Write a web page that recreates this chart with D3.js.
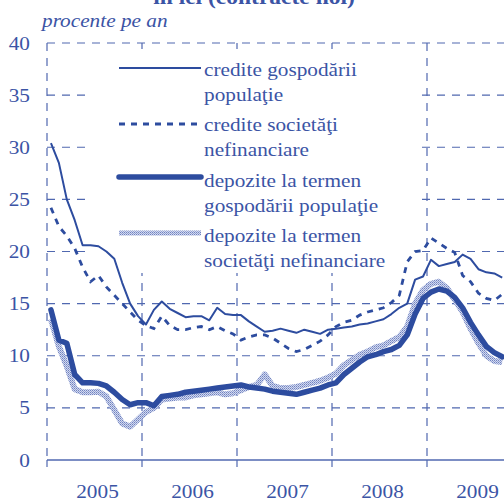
<!DOCTYPE html>
<html>
<head>
<meta charset="utf-8">
<script src="https://cdn.jsdelivr.net/npm/d3@7"></script>
<style>
  body { margin: 0; background: #fff; }
  svg { display: block; }
</style>
</head>
<body>
<script>
// monthly values, Jan 2005 .. Oct 2009
var years = ["2005", "2006", "2007", "2008", "2009"];
var yTicks = [0, 5, 10, 15, 20, 25, 30, 35, 40];

var credGosp = [30.4, 28.5, 25.0, 23.0, 20.6, 20.6, 20.5, 20.0, 19.3, 17.0, 15.0, 13.8,
                13.0, 14.4, 15.2, 14.5, 14.1, 13.7, 13.8, 13.8, 13.4, 14.6, 14.0, 13.9,
                13.9, 13.3, 12.8, 12.3, 12.4, 12.6, 12.4, 12.2, 12.5, 12.3, 12.1, 12.5,
                12.6, 12.7, 12.8, 13.0, 13.1, 13.3, 13.5, 14.0, 14.6, 15.0, 17.3, 17.6,
                19.2, 18.6, 18.8, 19.0, 19.7, 19.3, 18.3, 18.0, 17.9, 17.5];
var credSoc = [24.2, 22.4, 21.5, 20.3, 18.5, 17.1, 17.7, 16.6, 15.8, 15.0, 14.2, 13.4,
               12.9, 12.6, 13.8, 12.9, 12.5, 12.5, 12.7, 12.8, 12.5, 12.8, 12.4, 12.1,
               11.5, 11.8, 12.0, 12.0, 11.7, 11.2, 10.7, 10.4, 10.6, 11.0, 11.4, 12.0,
               12.8, 13.2, 13.4, 13.9, 14.2, 14.4, 14.6, 15.1, 15.8, 19.0, 20.0, 20.1,
               21.3, 20.8, 20.3, 19.9, 17.7, 17.1, 16.0, 15.5, 15.3, 15.9];
var depGosp = [14.4, 11.5, 11.2, 8.2, 7.4, 7.4, 7.35, 7.1, 6.5, 5.8, 5.3, 5.5,
               5.5, 5.2, 6.1, 6.2, 6.3, 6.5, 6.6, 6.7, 6.8, 6.9, 7.0, 7.1,
               7.2, 7.0, 6.9, 6.8, 6.6, 6.5, 6.4, 6.3, 6.5, 6.7, 6.9, 7.2,
               7.4, 8.2, 8.8, 9.4, 9.9, 10.1, 10.4, 10.6, 11.0, 12.0, 14.0, 15.5,
               16.1, 16.4, 16.2, 15.6, 14.6, 13.2, 12.0, 10.9, 10.3, 9.9];
var depSoc = [13.5, 10.9, 9.0, 6.8, 6.5, 6.5, 6.55, 6.1, 4.8, 3.5, 3.2, 3.9,
              4.6, 5.0, 5.8, 5.9, 6.0, 6.0, 6.2, 6.3, 6.4, 6.5, 6.3, 6.4,
              6.7, 7.0, 7.2, 8.2, 7.1, 6.9, 6.9, 7.0, 7.2, 7.4, 7.6, 7.9,
              8.3, 9.1, 9.6, 10.1, 10.4, 10.8, 11.0, 11.4, 11.8, 12.8, 15.0, 16.3,
              16.9, 17.1, 16.5, 15.4, 14.2, 12.6, 11.2, 10.0, 9.5, 9.4];

var legendLabels = [
    ["credite gospodării", "populaţie"],
    ["credite societăţi", "nefinanciare"],
    ["depozite la termen", "gospodării populaţie"],
    ["depozite la termen", "societăţi nefinanciare"]
];

var width = 504;
var height = 500;
var textColor = "#3b54a5";
var lineColor = "#2d4c9f";
var gridColor = "#5068b0";
var stretch = 1.12;  // glyphs in the picture are wider than tall

var xScale = d3.scaleLinear().domain([0, 60]).range([47, 522]);
var yScale = d3.scaleLinear().domain([0, 40]).range([460, 43]);

var svg = d3.select("body")
    .append("svg")
    .attr("width", width)
    .attr("height", height);

var defs = svg.append("defs");
var pat = defs.append("pattern")
    .attr("id", "dots")
    .attr("patternUnits", "userSpaceOnUse")
    .attr("width", 2)
    .attr("height", 2);
pat.append("rect").attr("width", 2).attr("height", 2).attr("fill", "#d3d9ef");
pat.append("rect").attr("width", 1).attr("height", 1).attr("fill", "#6f82c0");
pat.append("rect").attr("x", 1).attr("y", 1).attr("width", 1).attr("height", 1).attr("fill", "#93a2d2");

function addText(x, y, str, size, anchor, extra) {
    var t = svg.append("text")
        .attr("transform", "translate(" + x + "," + y + ") scale(" + stretch + ",1)")
        .attr("font-family", "'Liberation Serif', 'Times New Roman', serif")
        .attr("font-size", size)
        .attr("fill", textColor)
        .attr("text-anchor", anchor)
        .text(str);
    if (extra) extra(t);
    return t;
}

// horizontal grid
svg.selectAll("line.hgrid")
    .data(yTicks.filter(function (d) { return d > 0; }))
    .enter()
    .append("line")
    .attr("class", "hgrid")
    .attr("x1", xScale(0))
    .attr("x2", width)
    .attr("y1", function (d) { return yScale(d); })
    .attr("y2", function (d) { return yScale(d); })
    .attr("stroke", gridColor)
    .attr("stroke-width", 1.2)
    .attr("stroke-dasharray", "8,7");

// vertical grid at year boundaries (left edge included)
svg.selectAll("line.vgrid")
    .data([0, 12, 24, 36, 48])
    .enter()
    .append("line")
    .attr("class", "vgrid")
    .attr("x1", function (d) { return xScale(d); })
    .attr("x2", function (d) { return xScale(d); })
    .attr("y1", yScale(40))
    .attr("y2", yScale(0))
    .attr("stroke", gridColor)
    .attr("stroke-width", 1.2)
    .attr("stroke-dasharray", "8,7");

// bottom axis with ticks
svg.append("line")
    .attr("x1", xScale(0)).attr("x2", width)
    .attr("y1", yScale(0)).attr("y2", yScale(0))
    .attr("stroke", gridColor)
    .attr("stroke-width", 1.5);
svg.selectAll("line.xtick")
    .data([0, 12, 24, 36, 48])
    .enter()
    .append("line")
    .attr("class", "xtick")
    .attr("x1", function (d) { return xScale(d); })
    .attr("x2", function (d) { return xScale(d); })
    .attr("y1", yScale(0))
    .attr("y2", yScale(0) + 7)
    .attr("stroke", gridColor)
    .attr("stroke-width", 1.2);

// legend box hides the grid behind it
svg.append("rect")
    .attr("x", 87).attr("y", 49)
    .attr("width", 328).attr("height", 224)
    .attr("fill", "#fff");

// series
function lineFor(data) {
    return d3.line()
        .x(function (d, i) { return xScale(i + 0.5); })
        .y(function (d) { return yScale(d); })(data);
}

svg.append("path")
    .attr("d", lineFor(depSoc))
    .attr("fill", "none")
    .attr("stroke", "url(#dots)")
    .attr("stroke-width", 6)
    .attr("stroke-linejoin", "round");

svg.append("path")
    .attr("d", lineFor(depGosp))
    .attr("fill", "none")
    .attr("stroke", lineColor)
    .attr("stroke-width", 5.5)
    .attr("stroke-linejoin", "round")
    .attr("stroke-linecap", "round");

svg.append("path")
    .attr("d", lineFor(credSoc))
    .attr("fill", "none")
    .attr("stroke", lineColor)
    .attr("stroke-width", 2.8)
    .attr("stroke-dasharray", "6,6");

svg.append("path")
    .attr("d", lineFor(credGosp))
    .attr("fill", "none")
    .attr("stroke", lineColor)
    .attr("stroke-width", 2)
    .attr("stroke-linejoin", "round");

// legend
var legendY = [68, 124, 177, 233];
var legendBase = [76, 131, 187, 242];
var legendStyles = [
    {stroke: lineColor, w: 2.2, dash: null, cap: "butt"},
    {stroke: lineColor, w: 3, dash: "6,6", cap: "butt"},
    {stroke: lineColor, w: 5.5, dash: null, cap: "round"},
    {stroke: "url(#dots)", w: 5, dash: null, cap: "butt"}
];
legendStyles.forEach(function (s, i) {
    svg.append("line")
        .attr("x1", 119).attr("x2", 201)
        .attr("y1", legendY[i]).attr("y2", legendY[i])
        .attr("stroke", s.stroke)
        .attr("stroke-width", s.w)
        .attr("stroke-linecap", s.cap)
        .attr("stroke-dasharray", s.dash);
    addText(204, legendBase[i], legendLabels[i][0], 19, "start");
    addText(204, legendBase[i] + 25, legendLabels[i][1], 19, "start");
});

// y labels
yTicks.forEach(function (d) {
    addText(30, yScale(d) + 6.5, d, 19, "end");
});

// year labels
years.forEach(function (d, i) {
    addText(xScale(i * 12 + 6) + 3, 498, d, 19, "middle");
});

// unit and (cropped) title
addText(42, 27, "procente pe an", 19, "start", function (t) { t.attr("font-style", "italic"); });
addText(254, 4, "în lei (contracte noi)", 21, "middle", function (t) { t.attr("font-weight", "bold"); });
</script>
</body>
</html>
